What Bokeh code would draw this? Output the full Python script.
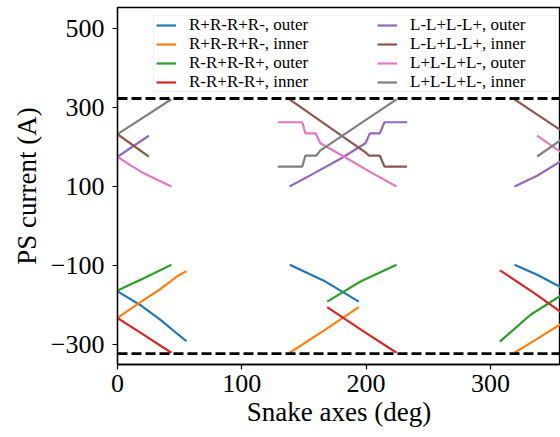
from bokeh.plotting import figure
from bokeh.models import Span, Legend, LegendItem, FixedTicker, BoxAnnotation
from bokeh.embed import file_html
from bokeh.resources import INLINE

# ---------------- data ----------------
X_TICKS = [0, 100, 200, 300]
Y_TICKS = [-300, -100, 100, 300, 500]
LIMIT = 322  # PS current limit (A)

labels = ["R+R-R+R-, outer", "R+R-R+R-, inner", "R-R+R-R+, outer", "R-R+R-R+, inner",
          "L-L+L-L+, outer", "L-L+L-L+, inner", "L+L-L+L-, outer", "L+L-L+L-, inner"]
colors = ["#1f77b4", "#ff7f0e", "#2ca02c", "#d62728",
          "#9467bd", "#8c564b", "#e377c2", "#7f7f7f"]

# each series: three segments (near 0, 180 and 360 deg)
rpo_x = [[0, 18.5, 34.6, 48, 55.5], [138.6, 166, 194.1], [319.4, 337.6, 357]]
rpo_y = [[-165, -200, -237, -272, -291], [-98, -138, -191], [-98, -123, -155]]

rpi_x = [[0, 18.5, 34.6, 48, 55.5], [138.6, 166, 194.1], [319.4, 337.6, 357]]
rpi_y = [[-232, -192, -159, -127, -114], [-320, -264, -205], [-320, -285, -247]]

rmo_x = [[0, 21.2, 43.4], [168.7, 195.5, 224.5], [307.6, 310.8, 332.3, 357]]
rmo_y = [[-163, -132, -98], [-191, -140, -98], [-292, -283, -224, -175]]

rmi_x = [[0, 21.2, 43.4], [168.7, 195.5, 224.5], [307.6, 312.1, 335, 357]]
rmi_y = [[-232, -275, -320], [-205, -261, -320], [-112, -121, -169, -218]]

lmo_x = [[0, 25.2], [138.4, 158, 179.4, 199.5, 203, 211, 214.8, 233], [319.4, 337.6, 357]]
lmo_y = [[175, 228], [100, 133, 170, 209, 234, 234, 262, 262], [100, 127, 164]]

lmi_x = [[0, 25.2], [138.4, 199.5, 202.2, 211, 214.8, 233], [319.4, 357]]
lmi_y = [[232, 175], [320, 186, 178, 178, 150, 150], [320, 241]]

lpo_x = [[0, 10.5, 21.2, 31.9, 43.4], [129, 148.6, 151.2, 159.3, 163.3, 182.1, 203.5, 224.5], [337.6, 357]]
lpo_y = [[175, 153, 133, 117, 100], [262, 262, 234, 234, 209, 175.5, 136, 100], [228.5, 186]]

lpi_x = [[0, 43.4], [129, 148.6, 151.2, 160, 163.3, 224.5], [337.6, 357]]
lpi_y = [[232, 320], [150, 150, 178, 178, 191, 320], [175.5, 218]]

series_x = [rpo_x, rpi_x, rmo_x, rmi_x, lmo_x, lmi_x, lpo_x, lpi_x]
series_y = [rpo_y, rpi_y, rmo_y, rmi_y, lmo_y, lmi_y, lpo_y, lpi_y]

# ---------------- figure ----------------
FONT = "Liberation Serif"
W, H = 560, 437
FRAME_LEFT, FRAME_TOP, FRAME_BOTTOM = 117, 7, 364

p = figure(width=W, height=H, output_backend="svg", toolbar_location=None,
           x_range=(0, 356.4), y_range=(-349.7, 551.8),
           min_border_left=FRAME_LEFT, min_border_right=0,
           min_border_top=FRAME_TOP, min_border_bottom=H - FRAME_BOTTOM)

p.background_fill_color = "white"
p.border_fill_color = "white"
p.outline_line_color = "black"
p.outline_line_width = 1.3
p.grid.visible = False

for axis in (p.xaxis, p.yaxis):
    axis.axis_line_color = "black"
    axis.axis_line_width = 1.3
    axis.major_tick_line_width = 1.2
    axis.major_tick_out = 5
    axis.major_tick_in = 0
    axis.minor_tick_line_color = None
    axis.major_label_text_font = FONT
    axis.major_label_text_font_size = "26px"
    axis.major_label_text_color = "black"
    axis.axis_label_text_font = FONT
    axis.axis_label_text_font_size = "27px"
    axis.axis_label_text_font_style = "normal"
    axis.axis_label_text_color = "black"

p.xaxis.ticker = FixedTicker(ticks=X_TICKS)
p.yaxis.ticker = FixedTicker(ticks=Y_TICKS)
p.yaxis.major_label_overrides = {t: str(t).replace("-", "\u2212") for t in Y_TICKS}
p.xaxis.axis_label = "Snake axes (deg)"
p.yaxis.axis_label = "PS current (A)"
p.xaxis.major_label_standoff = 5
p.xaxis.axis_label_standoff = 2
p.yaxis.major_label_standoff = 8
p.yaxis.axis_label_standoff = 6

renderers = []
for col, xs, ys in zip(colors, series_x, series_y):
    renderers.append(p.multi_line(xs=xs, ys=ys, line_color=col, line_width=2.2))

for lim in (LIMIT, -LIMIT):
    p.add_layout(Span(location=lim, dimension="width", line_color="black",
                      line_width=2.8, line_dash="10 4"))

# legend frame
p.add_layout(BoxAnnotation(left=153, right=555, top=15, bottom=91,
                           left_units="canvas", right_units="canvas",
                           top_units="canvas", bottom_units="canvas",
                           fill_color="white", fill_alpha=0.8,
                           line_color="#cccccc", line_width=1, level="annotation"))

# legend entries, two columns of four rows
ROW_CENTERS = [24.5, 43.5, 62.5, 81.5]
COL_X = [156, 377]
ITEM_H = 24
for i, (lab, r) in enumerate(zip(labels, renderers)):
    col, row = divmod(i, 4)
    bottom = ROW_CENTERS[row] + ITEM_H / 2
    lg = Legend(items=[LegendItem(label=lab, renderers=[r])],
                location=(COL_X[col] - FRAME_LEFT, FRAME_BOTTOM - bottom))
    lg.label_text_font = FONT
    lg.label_text_font_size = "17px"
    lg.label_text_color = "black"
    lg.glyph_width = 20
    lg.glyph_height = ITEM_H
    lg.label_height = ITEM_H
    lg.label_standoff = 13
    lg.padding = 0
    lg.margin = 0
    lg.spacing = 0
    lg.border_line_color = None
    lg.background_fill_alpha = 0
    p.add_layout(lg)

open("out.html", "w").write(file_html(p, INLINE))
